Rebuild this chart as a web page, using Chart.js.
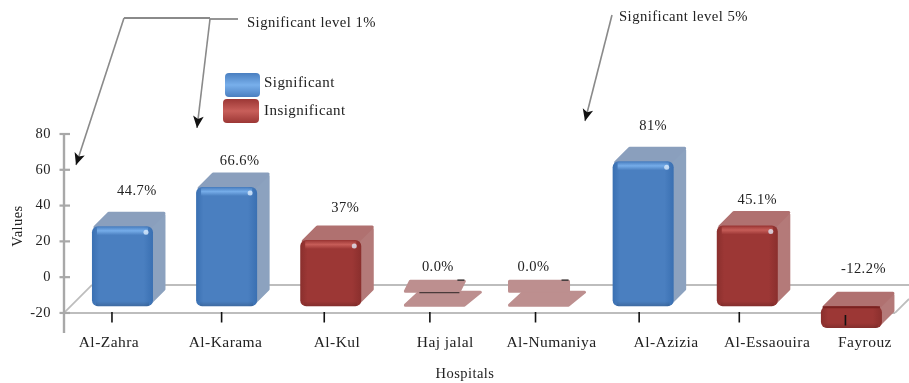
<!DOCTYPE html>
<html>
<head>
<meta charset="utf-8">
<style>html,body{margin:0;padding:0;background:#fff}canvas{display:block}</style>
<script src="https://cdn.jsdelivr.net/npm/chart.js@4"></script>
</head>
<body>
<canvas id="chart" width="909" height="383"></canvas>
<script>
// Hospital results, with bars split by statistical significance.
const hospitals = ['Al-Zahra', 'Al-Karama', 'Al-Kul', 'Haj jalal', 'Al-Numaniya', 'Al-Azizia', 'Al-Essaouira', 'Fayrouz'];
const significant = [44.7, 66.6, null, null, null, 81, null, null];
const insignificant = [null, null, 37, 0, 0, null, 45.1, -12.2];
const valueLabels = ['44.7%', '66.6%', '37%', '0.0%', '0.0%', '81%', '45.1%', '-12.2%'];
const valueTicks = [-20, 0, 20, 40, 60, 80];

// Layout tuning, in pixels unless noted.
const valueLabelShift = [[14.5, -35], [13, -26], [14.5, -32], [3, -39], [-5.5, -39], [10, -35], [10, -25], [12, -37]];
const categoryLabelShift = [-0.13, -0.01, 0.06, 0.1, 0.12, 0.22, 0.19, 0.13]; // in category units
const categoryMarkShift = [-10.5, -5, -6.5, -5, -3.5, -4, -8, -6];
const depthX = 14, depthY = 14;
const wallMin = -31.2, wallMax = 80;
const frontOffset = 16.2; // value shift between the wall scale and the front plane of the bars

const serif = '"Liberation Serif", serif';
const ink = '#222';
const palette = {
  blue: { edge: '#3a70b2', mid: '#4a7fc0', side: '#8ca2bf', top: '#8a9fbd', glow: '120,175,235', rim: '#2c5f9e' },
  red: { edge: '#8a2f2d', mid: '#9c3735', side: '#b47a79', top: '#b07170', glow: '200,95,90', rim: '#7a2220' }
};
const flatColor = '#bd8f8f';

function frontFill(key) {
  return c => {
    const x = c.chart.scales.x;
    const cx = x ? x.getPixelForValue(c.dataIndex) : NaN;
    const half = x ? x.width / hospitals.length * 0.586 / 2 : NaN;
    if (!Number.isFinite(cx) || !Number.isFinite(half)) return palette[key].mid;
    const g = c.chart.ctx.createLinearGradient(cx - half, 0, cx + half, 0);
    g.addColorStop(0, palette[key].edge);
    g.addColorStop(0.12, palette[key].mid);
    g.addColorStop(0.85, palette[key].mid);
    g.addColorStop(1, palette[key].edge);
    return g;
  };
}

function poly(ctx, pts, fill) {
  ctx.beginPath();
  pts.forEach((p, i) => i ? ctx.lineTo(p[0], p[1]) : ctx.moveTo(p[0], p[1]));
  ctx.closePath();
  ctx.fillStyle = fill;
  ctx.strokeStyle = fill;
  ctx.lineWidth = 3;
  ctx.lineJoin = 'round';
  ctx.stroke();
  ctx.fill();
}

function line(ctx, x1, y1, x2, y2, color, width) {
  ctx.beginPath();
  ctx.moveTo(x1, y1);
  ctx.lineTo(x2, y2);
  ctx.strokeStyle = color;
  ctx.lineWidth = width;
  ctx.stroke();
}

function arrow(ctx, x1, y1, x2, y2) {
  line(ctx, x1, y1, x2, y2, '#8a8a8a', 1.6);
  const a = Math.atan2(y2 - y1, x2 - x1);
  const at = (r, t) => [x2 + r * Math.cos(a + t), y2 + r * Math.sin(a + t)];
  ctx.beginPath();
  ctx.moveTo(x2, y2);
  [at(13, 2.72), at(9, Math.PI), at(13, -2.72)].forEach(p => ctx.lineTo(p[0], p[1]));
  ctx.closePath();
  ctx.fillStyle = '#111';
  ctx.fill();
}

function text(ctx, s, x, y, align, size) {
  ctx.font = (size || 14.5) + 'px ' + serif;
  ctx.fillStyle = ink;
  ctx.textAlign = align || 'center';
  ctx.textBaseline = 'middle';
  ctx.fillText(s, x, y);
}

function swatch(ctx, x, y, w, h, key) {
  const g = ctx.createLinearGradient(0, y, 0, y + h);
  g.addColorStop(0, palette[key].mid);
  g.addColorStop(0.5, 'rgb(' + palette[key].glow + ')');
  g.addColorStop(1, palette[key].mid);
  ctx.beginPath();
  ctx.roundRect(x, y, w, h, 4);
  ctx.fillStyle = g;
  ctx.fill();
}

const scene = {
  id: 'scene',
  beforeDraw(chart) {
    chart.ctx.letterSpacing = '0.45px';
  },
  beforeDatasetsDraw(chart) {
    const { ctx, scales: { y } } = chart;
    const floorFront = y.getPixelForValue(-20);
    const floorBack = floorFront - 28;
    ctx.save();
    line(ctx, 64, floorBack + 28, 92, floorBack, '#bdbdbd', 1.8);
    line(ctx, 92, floorBack, 909, floorBack, '#bdbdbd', 2);
    line(ctx, 64, floorFront, 895, floorFront, '#bdbdbd', 2);
    line(ctx, 895, floorFront, 909, floorFront - 14, '#bdbdbd', 1.8);
    line(ctx, 64, y.top, 64, y.bottom, '#a8a8a8', 2.4);
    valueTicks.forEach(v => {
      const py = y.getPixelForValue(v);
      line(ctx, 59.5, py, 70, py, '#a8a8a8', 2.2);
    });

    // Depth faces sit behind the library's front faces.
    chart.data.datasets.forEach((ds, di) => {
      const colors = palette[ds.paletteKey];
      chart.getDatasetMeta(di).data.forEach((bar, i) => {
        if (ds.data[i] === null) return;
        const left = bar.x - bar.width / 2, right = bar.x + bar.width / 2;
        const top = Math.min(bar.y, bar.base), bottom = Math.max(bar.y, bar.base);
        if (ds.data[i] === 0) {
          poly(ctx, [[left + 1, bottom - 1], [left + depthX + 1, bottom - depthY], [right + depthX + 1, bottom - depthY], [right - 1, bottom - 1]], flatColor);
          const up = bottom - depthY - 1;
          const lean = i === 3 ? 5 : 0;
          poly(ctx, [[left + lean + 1, up - 10], [right - 1, up - 10], [right - lean - 1, up], [left + 1, up]], flatColor);
          line(ctx, right - 8, up - 11, right - 1, up - 11, '#333', 1.4);
          if (i === 3) line(ctx, left + 15, up + 1.5, right - 6, up + 1.5, '#4a3a3a', 1.4);
          return;
        }
        poly(ctx, [[right - 3, top + 3], [right + depthX - 3, top - depthY + 3], [right + depthX - 3, bottom - depthY - 3], [right - 3, bottom - 3]], colors.side);
        poly(ctx, [[left + 3, top + 1], [left + depthX + 3, top - depthY + 1], [right + depthX - 3, top - depthY + 1], [right - 3, top + 1]], colors.top);
      });
    });
    ctx.restore();
  },
  afterDatasetsDraw(chart) {
    const { ctx, scales: { x, front } } = chart;
    ctx.save();
    chart.data.datasets.forEach((ds, di) => {
      const colors = palette[ds.paletteKey];
      chart.getDatasetMeta(di).data.forEach((bar, i) => {
        const v = ds.data[i];
        if (v === null || v === 0) return;
        const left = bar.x - bar.width / 2, right = bar.x + bar.width / 2;
        const top = Math.min(bar.y, bar.base);
        const bottom = Math.max(bar.y, bar.base);
        const shade = ctx.createLinearGradient(0, bottom - 5, 0, bottom);
        shade.addColorStop(0, 'rgba(0,0,0,0)');
        shade.addColorStop(1, 'rgba(0,0,0,0.16)');
        ctx.fillStyle = shade;
        ctx.fillRect(left + 4, bottom - 5, bar.width - 8, 5);
        if (v < 0) {
          // A bar hanging below the base shows a dark rim where it meets the top face.
          line(ctx, left + 2, top + 1, right - 2, top + 1, colors.rim, 2);
          return;
        }
        const glow = ctx.createLinearGradient(0, top + 1, 0, top + 9);
        glow.addColorStop(0, 'rgba(' + colors.glow + ',0.15)');
        glow.addColorStop(0.45, 'rgba(' + colors.glow + ',0.95)');
        glow.addColorStop(1, 'rgba(' + colors.glow + ',0)');
        ctx.fillStyle = glow;
        ctx.fillRect(left + 5, top + 1, bar.width - 10, 8);
        ctx.beginPath();
        ctx.arc(right - 7, top + 6, 2.5, 0, Math.PI * 2);
        ctx.fillStyle = 'rgba(225,240,255,0.75)';
        ctx.fill();
      });
    });

    // Category tick marks; the one under the negative bar sits lower.
    hospitals.forEach((_, i) => {
      const px = x.getPixelForValue(i) + categoryMarkShift[i];
      const py = 312 + (i === 7 ? 3 : 0);
      line(ctx, px, py, px, py + 10.5, '#111', 1.6);
    });

    // Value labels above each bar.
    const values = hospitals.map((_, i) => significant[i] ?? insignificant[i]);
    values.forEach((v, i) => {
      const py = front.getPixelForValue(Math.max(v, 0)) + valueLabelShift[i][1];
      text(ctx, valueLabels[i], x.getPixelForValue(i) + valueLabelShift[i][0], py);
    });

    // Axis titles.
    text(ctx, 'Hospitals', 465, 374);
    ctx.translate(18, 226);
    ctx.rotate(-Math.PI / 2);
    text(ctx, 'Values', 0, 0);
    ctx.setTransform(1, 0, 0, 1, 0, 0);

    // Legend.
    swatch(ctx, 225, 73, 35, 24, 'blue');
    swatch(ctx, 223, 99, 36, 24, 'red');
    text(ctx, chart.data.datasets[0].label, 264, 83, 'left', 15);
    text(ctx, chart.data.datasets[1].label, 264, 111, 'left', 15);

    // Significance callouts.
    line(ctx, 124, 18, 210, 18, '#8a8a8a', 1.8);
    line(ctx, 210, 19, 238, 19, '#8a8a8a', 1.8);
    arrow(ctx, 124, 18, 76, 165);
    arrow(ctx, 210, 19, 197, 128);
    arrow(ctx, 612, 15, 585, 121);
    text(ctx, 'Significant level 1%', 247, 23, 'left', 14.7);
    text(ctx, 'Significant level 5%', 619, 17, 'left', 14.7);
    ctx.restore();
  }
};

new Chart(document.getElementById('chart'), {
  type: 'bar',
  data: {
    labels: hospitals,
    datasets: [
      { label: 'Significant', paletteKey: 'blue', data: significant, backgroundColor: frontFill('blue'), xAxisID: 'x', yAxisID: 'front' },
      { label: 'Insignificant', paletteKey: 'red', data: insignificant, backgroundColor: frontFill('red'), xAxisID: 'x', yAxisID: 'front' }
    ]
  },
  options: {
    responsive: false,
    animation: false,
    layout: { padding: { top: 134, right: 5.5, bottom: 0, left: 0 } },
    datasets: { bar: { categoryPercentage: 1, barPercentage: 0.586, borderRadius: 6, borderSkipped: false, clip: false } },
    plugins: { legend: { display: false }, tooltip: { enabled: false } },
    scales: {
      x: { type: 'category', display: false, stacked: true, offset: true },
      front: { type: 'linear', display: false, stacked: true, min: wallMin + frontOffset, max: wallMax + frontOffset },
      x2: {
        type: 'linear', axis: 'x', position: 'bottom', min: -0.5, max: 7.5, offset: false,
        grid: { display: false, drawTicks: false },
        border: { display: false },
        afterBuildTicks: s => { s.ticks = hospitals.map((_, i) => ({ value: i + categoryLabelShift[i] })); },
        afterFit: s => { s.height = 50; },
        ticks: {
          autoSkip: false, maxRotation: 0, padding: 1, color: ink,
          font: { family: serif, size: 15.5 },
          callback: (_, i) => hospitals[i]
        }
      },
      y: {
        type: 'linear', position: 'left', min: wallMin, max: wallMax,
        grid: { display: false, drawTicks: false },
        border: { display: false },
        afterBuildTicks: s => { s.ticks = valueTicks.map(v => ({ value: v })); },
        afterFit: s => { s.width = 70.4; },
        ticks: { padding: 19.4, color: ink, font: { family: serif, size: 14.5 } }
      }
    }
  },
  plugins: [scene]
});
</script>
</body>
</html>
